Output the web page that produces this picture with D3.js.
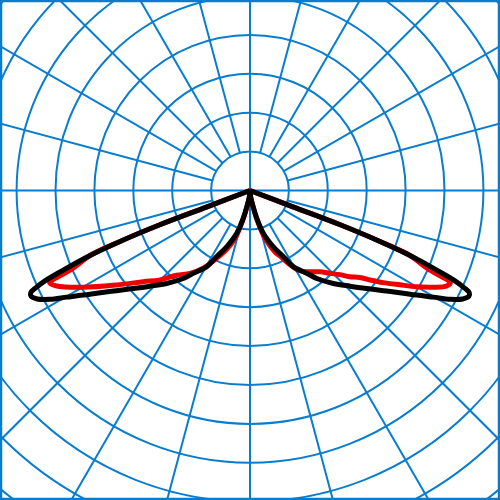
<!DOCTYPE html>
<html><head><meta charset="utf-8">
<script src="https://cdn.jsdelivr.net/npm/d3@7"></script>
<style>html,body{margin:0;padding:0;background:#fff}</style>
</head><body><svg id="c" width="500" height="500"></svg>
<script>
// grid rings (intensity units, one ring = 100)
const ringValues = [100,200,300,400,500,600,700,800,900,1000,1100,1200];
// spoke angles (degrees)
const spokeAngles = d3.range(0,360,15);

// black curve: angle from nadir (deg) -> intensity, symmetric
const blackAngles = [0,5,10.5,13.5,17.3,22.5,26.7,29.6,34.4,37.2,41.9,46.3,50,53.1,55.7,57.9,59.8,61.5,63,64.2,65,65.6,66.2,66.8,67.9,68.6,69.2,69.2,69.2];
const blackValues = [0,13,39,72,116,157,190,225,258,284,321,356,392,429,466,506,545,586,614,625,622,604,576,531,444,359,248,120,0];

// red curve, right half (C0)
const redRightAngles = [0,5,10.5,13.5,17.5,22,24.6,27.7,31.9,36.5,40.8,44,46.8,49.2,51.6,53.3,55.3,57.8,60,62.2,64.1,65.3,65.8,66.1,66.9,67.9,68.6,69.2,69.2,69.2];
const redRightValues = [0,13,41,77,129,170,185,211,243,260,276,296,316,339,360,385,416,455,495,533,562,567,541,506,476,444,359,248,120,0];
// red curve, left half (C180)
const redLeftAngles = [0,5,10.5,13.5,17.5,22,26.2,31,35.9,40.9,45.2,49.5,54.7,59.9,63.7,65.3,65.8,66.1,66.9,67.9,68.6,69.2,69.2,69.2];
const redLeftValues = [0,13,41,77,129,165,194,233,263,288,326,361,420,496,554,567,541,506,476,444,359,248,120,0];

const W=500,H=500,cx=250,cy=190.5;
const gridColor="#087dcf";
const svg=d3.select("#c");
const rScale=d3.scaleLinear().domain([0,100]).range([0,38.9]);
const g=svg.append("g").attr("transform",`translate(${cx},${cy})`);

// rings
g.selectAll("circle.ring").data(ringValues).join("circle")
 .attr("class","ring").attr("r",d=>rScale(d))
 .attr("fill","none").attr("stroke",gridColor).attr("stroke-width",2);

// spokes
const inner=rScale(ringValues[0]), outer=rScale(1300);
g.selectAll("line.spoke").data(spokeAngles).join("line")
 .attr("class","spoke")
 .attr("x1",d=>(d%90===0?0:inner)*Math.sin(d*Math.PI/180))
 .attr("y1",d=>(d%90===0?0:inner)*Math.cos(d*Math.PI/180))
 .attr("x2",d=>outer*Math.sin(d*Math.PI/180))
 .attr("y2",d=>outer*Math.cos(d*Math.PI/180))
 .attr("stroke",gridColor).attr("stroke-width",2);

// border
svg.append("rect").attr("x",1).attr("y",1).attr("width",W-2).attr("height",H-2)
 .attr("fill","none").attr("stroke",gridColor).attr("stroke-width",2.5);

const radial=d3.lineRadial()
 .angle(d=>Math.PI - d[0]*Math.PI/180)
 .radius(d=>rScale(d[1]))
 .curve(d3.curveCatmullRom.alpha(0.5));

function lobe(angles,values,sign){return angles.map((a,i)=>[sign*a,values[i]]);}

const redLobes=[lobe(redRightAngles,redRightValues,1),lobe(redLeftAngles,redLeftValues,-1)];
const blackLobes=[lobe(blackAngles,blackValues,1),lobe(blackAngles,blackValues,-1)];

g.selectAll("path.red").data(redLobes).join("path").attr("class","red")
 .attr("d",radial).attr("fill","none").attr("stroke","#ee0000")
 .attr("stroke-width",5).attr("stroke-linejoin","round");
g.selectAll("path.black").data(blackLobes).join("path").attr("class","black")
 .attr("d",radial).attr("fill","none").attr("stroke","#000")
 .attr("stroke-width",5).attr("stroke-linejoin","round");
</script></body></html>
